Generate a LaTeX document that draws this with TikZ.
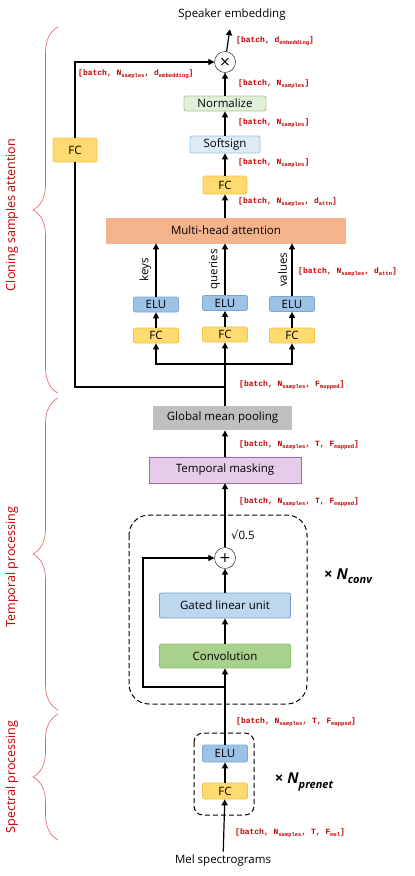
\documentclass[tikz,border=0pt]{standalone}
\usepackage{fontspec}
\setmainfont{Open Sans}
\setmonofont{Liberation Mono}
\newfontfamily\symfont{DejaVu Sans}
\usetikzlibrary{arrows.meta,decorations.pathreplacing,positioning}

\definecolor{fcfill}{HTML}{FFDA70}
\definecolor{fcline}{HTML}{F5C445}
\definecolor{elufill}{HTML}{9CC2E5}
\definecolor{eluline}{HTML}{7EA6D2}
\definecolor{normfill}{HTML}{E2EFDA}
\definecolor{normline}{HTML}{A9C990}
\definecolor{softfill}{HTML}{DDEBF7}
\definecolor{softline}{HTML}{9DC3E6}
\definecolor{attfill}{HTML}{F5B38C}
\definecolor{poolfill}{HTML}{BFBFBF}
\definecolor{maskfill}{HTML}{E6CCE8}
\definecolor{maskline}{HTML}{9B6BC0}
\definecolor{glufill}{HTML}{BDD7EE}
\definecolor{gluline}{HTML}{7A9CC6}
\definecolor{convfill}{HTML}{A9D18E}
\definecolor{convline}{HTML}{8CC06C}
\definecolor{dimred}{HTML}{C00000}
\definecolor{bracered}{HTML}{E06060}

\newcommand{\lsub}[1]{\raisebox{-0.45ex}{\fontsize{5.5}{6}\selectfont #1}}
\newcommand{\rsub}[1]{\raisebox{-0.5ex}{\fontsize{11}{11}\selectfont\itshape #1}}

\begin{document}
\begin{tikzpicture}[x=1pt, y=-1pt,
        block/.style={rectangle, rounded corners=2pt, thick, inner sep=0pt, font=\fontsize{11.5}{12}\selectfont},
        fcbox/.style={block, draw=fcline, fill=fcfill, minimum width=45pt, minimum height=15pt},
        elubox/.style={block, draw=eluline, fill=elufill, minimum width=45pt, minimum height=15pt},
        opnode/.style={circle, draw, minimum size=21pt, inner sep=0pt, font=\symfont\fontsize{14}{14}\selectfont},
        dims/.style={anchor=west, inner sep=0pt, text=dimred, font=\ttfamily\bfseries\fontsize{8}{9}\selectfont},
        flow/.style={line width=1.2pt, -{Triangle[length=6pt,width=6pt]}},
        side/.style={decorate, decoration={brace, amplitude=25pt}, draw=bracered, line width=0.6pt},
        sidelbl/.style={rotate=90, text=dimred, font=\fontsize{12.5}{13}\selectfont},
        loopbox/.style={draw, line width=1pt, dash pattern=on 5pt off 3pt},
        repeat/.style={font=\fontsize{15}{16}\selectfont\bfseries}
    ]
        \useasboundingbox (0,0) rectangle (415,876);

        % Cloning samples attention
        \node[font=\fontsize{11.5}{12}\selectfont] (title) at (232,15) {Speaker embedding};
        \node[opnode] (mul) at (225,62) {×};
        \node[block, draw=normline, fill=normfill, minimum width=82pt, minimum height=15pt] (norm) at (225,103.5) {Normalize};
        \node[block, draw=softline, fill=softfill, minimum width=70pt, minimum height=17pt] (soft) at (225,144.5) {Softsign};
        \node[fcbox, minimum width=44pt, minimum height=18pt] (fcTop) at (225,185) {FC};
        \node[block, rounded corners=0pt, draw=attfill, fill=attfill, minimum width=239pt, minimum height=25pt] (mha) at (226,230.5) {Multi-head attention};
        \node[fcbox, minimum width=44pt, minimum height=24pt] (fcSkip) at (75,150) {FC};

        \node[elubox] (eluK) at (156,304.5) {ELU};
        \node[elubox] (eluQ) at (225,303) {ELU};
        \node[elubox] (eluV) at (292,304) {ELU};
        \node[fcbox] (fcK) at (156,335.5) {FC};
        \node[fcbox] (fcQ) at (225,334.5) {FC};
        \node[fcbox] (fcV) at (292,335.5) {FC};
        \coordinate (split) at (225,364);
        \coordinate (merge) at (225,387);

        \draw[flow] (mul) -- (title) [shorten >=5pt];
        \draw[flow] (norm) -- (mul);
        \draw[flow] (soft) -- (norm);
        \draw[flow] (fcTop) -- (soft);
        \draw[flow] (mha.north -| fcTop) -- (fcTop);
        \foreach \h/\w in {K/keys, Q/queries, V/values} {
            \draw[flow] (elu\h) -- (elu\h |- mha.south) node[midway, left=1pt, rotate=90, anchor=south, font=\fontsize{11.5}{12}\selectfont] {\w};
            \draw[flow] (fc\h) -- (elu\h);
        }
        \draw[flow] (split) -| (fcK);
        \draw[flow] (split) -| (fcV);
        \draw[line width=1.2pt] (merge) -| (fcSkip);
        \draw[flow] (fcSkip) |- (mul);

        % Temporal processing
        \node[block, rounded corners=0pt, fill=poolfill, minimum width=139pt, minimum height=24pt] (pool) at (222.5,418) {Global mean pooling};
        \node[block, rounded corners=0pt, draw=maskline, thin, fill=maskfill, minimum width=152pt, minimum height=26pt] (mask) at (225,470) {Temporal masking};
        \node[opnode] (add) at (225,558) {+};
        \node[block, draw=gluline, fill=glufill, minimum width=131pt, minimum height=25pt] (glu) at (225,605.5) {Gated linear unit};
        \node[block, draw=convline, fill=convfill, minimum width=131pt, minimum height=24pt] (conv) at (225,656) {Convolution};
        \node[font=\fontsize{11.5}{12}\selectfont] (gain) at (243,535) {{\symfont √}0.5};
        \node[repeat] (nconv) at (348,576) {× \textit{N}\rsub{conv}};
        \coordinate (res) at (225,687);
        \coordinate (resL) at (143,687);

        \draw[flow] (pool.north -| fcQ) -- (fcQ);
        \draw[flow] (mask) -- (mask |- pool.south);
        \draw[flow] (add) -- (mask);
        \draw[flow] (glu) -- (add);
        \draw[flow] (conv) -- (glu);
        \draw[flow] (res) -- (resL) |- (add);
        \draw[loopbox, rounded corners=20pt] (129,515) rectangle (307,704);

        % Spectral processing
        \node[elubox, minimum height=17pt] (eluPre) at (225,753.5) {ELU};
        \node[fcbox, minimum height=16pt] (fcPre) at (225,791) {FC};
        \node[repeat] (nprenet) at (304,782) {× \textit{N}\rsub{prenet}};
        \node[font=\fontsize{11.5}{12}\selectfont] (mel) at (223,861) {Mel spectrograms};
        \draw[loopbox, rounded corners=9pt] (194,733) rectangle (254,815);

        \draw[flow] (eluPre) -- (conv);
        \draw[flow] (fcPre) -- (eluPre);
        \draw[flow] (mel) -- (fcPre);

        % Tensor shapes
        \node[dims] at (236,41) {[batch,  d\lsub{embedding}]};
        \node[dims] at (78,74) {[batch,  N\lsub{samples},  d\lsub{embedding}]};
        \node[dims] at (238,84) {[batch,  N\lsub{samples}]};
        \node[dims] at (238,123) {[batch,  N\lsub{samples}]};
        \node[dims] at (238,163) {[batch,  N\lsub{samples}]};
        \node[dims] at (238,202) {[batch,  N\lsub{samples},  d\lsub{attn}]};
        \node[dims] at (298,272) {[batch,  N\lsub{samples},  d\lsub{attn}]};
        \node[dims] at (239,385) {[batch,  N\lsub{samples},  F\lsub{mapped}]};
        \node[dims] at (239,445) {[batch,  N\lsub{samples},  T,  F\lsub{mapped}]};
        \node[dims] at (239,502) {[batch,  N\lsub{samples},  T,  F\lsub{mapped}]};
        \node[dims] at (236,722) {[batch,  N\lsub{samples},  T,  F\lsub{mapped}]};
        \node[dims] at (235,833) {[batch,  N\lsub{samples},  T,  F\lsub{mel}]};

        % Stage braces
        \draw[side] (58,393) -- (58,27);
        \draw[side] (58,710) -- (58,398);
        \draw[side] (58,840) -- (58,714);
        \node[sidelbl] at (12,215) {Cloning samples attention};
        \node[sidelbl] at (12,567) {Temporal processing};
        \node[sidelbl] at (12,777) {Spectral processing};
    \end{tikzpicture}
\end{document}
